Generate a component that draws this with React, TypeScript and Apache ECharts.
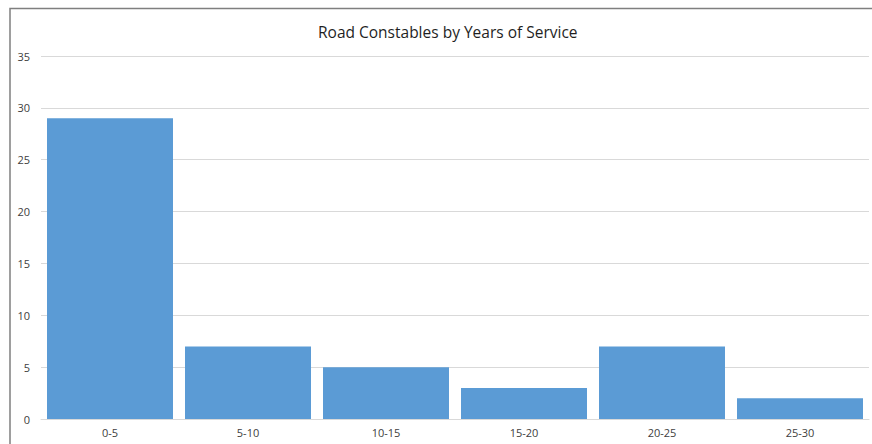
import React, { useEffect, useRef } from "react";
import * as echarts from "echarts";

const categories = ["0-5", "5-10", "10-15", "15-20", "20-25", "25-30"];
const constables = [29, 7, 5, 3, 7, 2];
const yTicks = { min: 0, max: 35, interval: 5 };

export default function App() {
  const ref = useRef<HTMLDivElement>(null);

  useEffect(() => {
    if (!ref.current) return;
    const chart = echarts.init(ref.current, null, { renderer: "svg" });
    chart.setOption({
      animation: false,
      backgroundColor: "#ffffff",
      textStyle: { fontFamily: "Open Sans" },
      title: {
        text: "Road Constables by Years of Service",
        left: 313,
        top: 19,
        textStyle: { fontSize: 15.5, fontWeight: "normal", color: "#1f1f1f", fontFamily: "Open Sans" },
      },
      graphic: [
        {
          type: "rect",
          shape: { x: 10, y: 8.5, width: 1000, height: 600 },
          style: { fill: "none", stroke: "#7f7f7f", lineWidth: 1.5 },
          silent: true,
        },
      ],
      grid: { left: 41, right: 3, top: 56, bottom: 25 },
      xAxis: {
        type: "category",
        data: categories,
        axisLine: { show: true, lineStyle: { color: "#d9d9d9", width: 1 } },
        axisTick: { show: false },
        axisLabel: { color: "#404040", fontSize: 11, margin: 8 },
      },
      yAxis: {
        type: "value",
        min: yTicks.min,
        max: yTicks.max,
        interval: yTicks.interval,
        axisLine: { show: false },
        axisTick: { show: false },
        axisLabel: { color: "#404040", fontSize: 11, margin: 11 },
        splitLine: { lineStyle: { color: "#d9d9d9", width: 1 } },
      },
      series: [
        {
          type: "bar",
          data: constables,
          barCategoryGap: "8.7%",
          itemStyle: { color: "#5b9bd5" },
        },
      ],
    });
    return () => chart.dispose();
  }, []);

  return (
    <div
      ref={ref}
      style={{ position: "fixed", left: 0, top: 0, width: 872, height: 444 }}
    />
  );
}
